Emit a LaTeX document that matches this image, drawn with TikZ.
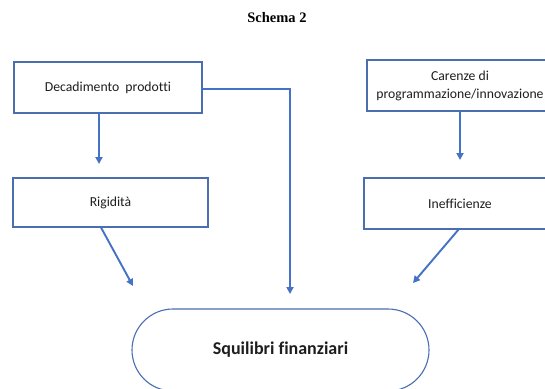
\documentclass[tikz,border=0pt]{standalone}
\usepackage{fontspec}
\setmainfont[Ligatures=NoCommon]{Carlito}
\newfontfamily\titlefont{Liberation Serif}
\usetikzlibrary{arrows.meta}
\definecolor{boxline}{RGB}{74,110,176}
\definecolor{arrowline}{RGB}{68,114,196}
\definecolor{txt}{RGB}{30,30,30}
\tikzset{
  stepbox/.style={draw=boxline, line width=1.1pt, rectangle, inner sep=0pt,
    text=txt, font=\fontsize{13.7}{18}\selectfont, align=center},
  goal/.style={draw=boxline, line width=1.1pt, rectangle, rounded corners=41pt,
    inner sep=0pt, text=txt, font=\fontsize{18}{22}\selectfont\bfseries},
  flow/.style={draw=arrowline, line width=1.9pt,
    -{Triangle[length=7pt,width=7pt]}},
}
\begin{document}
\begin{tikzpicture}[x=1pt,y=-1pt]
  \useasboundingbox[fill=white] (0,0) rectangle (545,388);

  % heading
  \node (title) at (277,18) {\titlefont\bfseries\fontsize{14.5}{16}\selectfont Schema 2};

  % boxes
  \node[stepbox, minimum width=188pt, minimum height=51pt] (dec) at (108,87.5)
    {Decadimento\ \ prodotti};
  \node[stepbox, minimum width=186pt, minimum height=51pt] (car) at (460,85.5)
    {Carenze di\\programmazione/innovazione};
  \node[stepbox, minimum width=195pt, minimum height=49pt] (rig) at (110.5,202.5)
    {Rigidità};
  \node[stepbox, minimum width=192pt, minimum height=51pt] (ine) at (460,203.5)
    {Inefficienze};
  \node[goal, minimum width=297pt, minimum height=82pt] (sq) at (280.5,350)
    {Squilibri finanziari};

  % free ends of the arrows
  \coordinate (decout) at (99,113);
  \coordinate (rigin) at (99,164);
  \coordinate (carout) at (460,111);
  \coordinate (inein) at (460,160);
  \coordinate (rigout) at (101,227.5);
  \coordinate (tipL) at (133,286);
  \coordinate (ineout) at (459,229);
  \coordinate (tipR) at (413,283);
  \coordinate (bend) at (290,88.7);
  \coordinate (tipM) at (290,294);

  % connectors
  \draw[flow] (decout) -- (rigin);
  \draw[flow] (carout) -- (inein);
  \draw[flow] (rigout) -- (tipL);
  \draw[flow] (ineout) -- (tipR);
  \draw[flow] (dec.east |- bend) -- (bend) -- (tipM);
\end{tikzpicture}
\end{document}
